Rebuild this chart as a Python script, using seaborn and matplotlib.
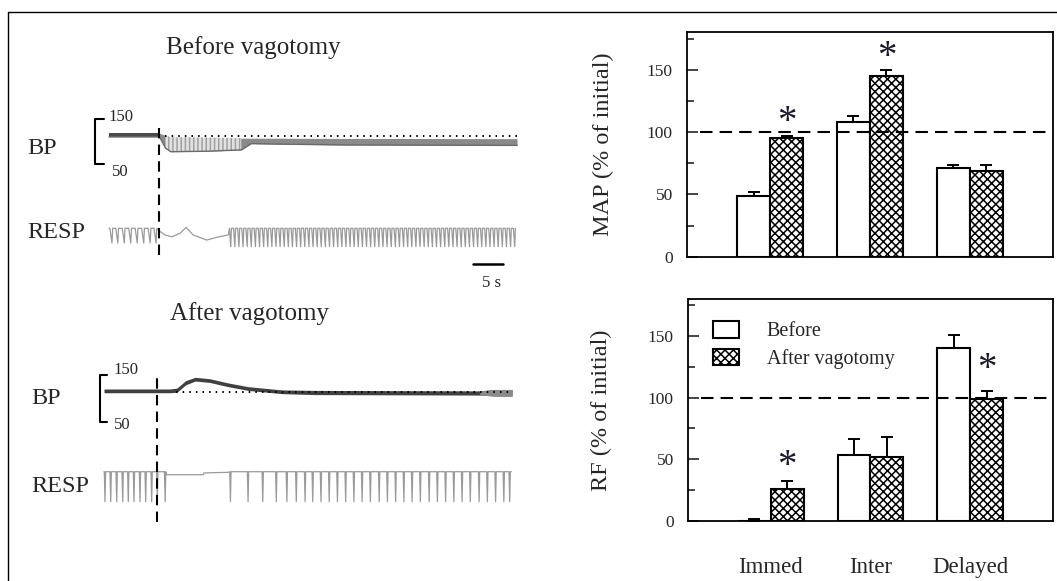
import numpy as np
import pandas as pd
import matplotlib
matplotlib.use("Agg")
import matplotlib.pyplot as plt
from matplotlib.lines import Line2D
from matplotlib.patches import Patch
import seaborn as sns

# ------------------------------------------------------------------ data
phases = ["Immed", "Inter", "Delayed"]
conditions = ["Before", "After vagotomy"]

map_before = [49, 108, 71.5]
map_before_err = [3, 5, 2]
map_after = [95, 145, 68.5]
map_after_err = [1.5, 5, 5]

rf_before = [0, 53, 140]
rf_before_err = [1, 13, 11]
rf_after = [26, 52, 99]
rf_after_err = [6, 16, 6]

# significance asterisks: (category index, y value) on the "After" bar
map_stars = [(0, 108), (1, 160)]
rf_stars = [(0, 44), (2, 123)]

# ---- traces (time in s) ----
stim_before = 8.55
bp_before_t = [0, 8.6, 9.6, 10.5, 16.5, 22.5, 24.2, 28, 40, 69.4]
bp_before_hi = [119, 119, 114, 110, 109.5, 108, 108, 108, 107.5, 107]
bp_before_lo = [111, 111, 86, 78, 79, 82, 96, 95, 93, 92]
bp_before_ref = 113

resp_before_pre = [0.5, 1.5, 2.6, 3.7, 4.8, 5.9, 7.0, 8.0]
resp_before_wave_t = [8.7, 9.5, 10.7, 12.1, 13.1, 14.3, 16.6, 18.3, 20.3]
resp_before_wave_y = [-0.18, -0.36, -0.46, -0.27, 0.05, -0.36, -0.64, -0.49, -0.36]
resp_before_post = [20.7, 21.4, 22.1, 22.8, 23.5, 24.2, 24.9, 25.6, 26.3, 27.0,
                    27.7, 28.4, 29.1, 29.8, 30.5, 31.2, 31.9, 32.6, 33.3, 34.0,
                    34.7, 35.4, 36.1, 36.8, 37.5, 38.2, 38.9, 39.6, 40.3, 41.0,
                    41.7, 42.4, 43.1, 43.8, 44.5, 45.2, 45.9, 46.6, 47.3, 48.0,
                    48.7, 49.4, 50.1, 50.8, 51.5, 52.2, 52.9, 53.6, 54.3, 55.0,
                    55.7, 56.4, 57.1, 57.8, 58.5, 59.2, 59.9, 60.6, 61.3, 62.0,
                    62.7, 63.4, 64.1, 64.8, 65.5, 66.2, 66.9, 67.6, 68.3, 69.0]

stim_after = 9.06
bp_after_t = [0, 9.0, 11.2, 12.4, 13.9, 15.5, 18.0, 21.1, 24.5, 30.3, 35.9, 63.9, 66.5, 69.4]
bp_after_hi = [120, 120, 120, 122, 138, 145, 142, 133, 125, 118, 117, 116, 119, 119]
bp_after_lo = [112, 112, 112, 113, 129, 137, 134, 125, 117, 110, 108, 107, 105, 105]
bp_after_ref = 113

resp_after_pre = [0.17, 1.14, 2.16, 3.18, 4.13, 5.1, 6.12, 7.09, 8.11, 9.06, 10.4]
resp_after_pause_t = [10.6, 16.9, 17.0, 21.2]
resp_after_pause_y = [-0.1, -0.1, -0.04, -0.02]
resp_after_post = [21.5, 24.5, 27.0, 29.3, 31.1, 32.7, 34.2, 35.5, 36.9, 38.3,
                   39.7, 41.1, 42.5, 43.9, 45.3, 46.8, 48.2, 49.6, 51.0, 52.4,
                   53.8, 55.3, 56.7, 58.1, 59.5, 60.9, 62.3, 63.8, 65.2, 66.6,
                   68.0, 69.0]

# ------------------------------------------------------------------ style
sns.set_style("white")
plt.rcParams["font.family"] = ["Liberation Serif", "DejaVu Serif"]
plt.rcParams["hatch.linewidth"] = 1.1

W, H = 1057, 581
fig = plt.figure(figsize=(W / 100, H / 100), dpi=100)


def rect(x0, y0, x1, y1):
    return [x0 / W, 1 - y1 / H, (x1 - x0) / W, (y1 - y0) / H]


def fpos(x, y):
    return x / W, 1 - y / H


# frame
fig.add_artist(Line2D([8 / W, 1], [1 - 11.5 / H] * 2, transform=fig.transFigure, color="black", lw=1.0))
fig.add_artist(Line2D([8 / W, 8 / W], [0, 1 - 11.5 / H], transform=fig.transFigure, color="black", lw=1.0))


# ------------------------------------------------------------------ traces
def breath_line(times, depth, wd, wu):
    xs, ys = [], []
    for tb in times:
        xs += [tb - wd, tb, tb + wu]
        ys += [0.0, -depth, 0.0]
    return xs, ys


def clean(ax, xlim, ylim):
    ax.set_xlim(*xlim)
    ax.set_ylim(*ylim)
    ax.axis("off")
    ax.patch.set_alpha(0)


def trace_panel(y_panel, y_bp, y_resp, xlim, bp_ylim, resp_ylim, bp_t, bp_hi, bp_lo, ref, ref_t0,
                bracket_t, bracket_tick, stim, stim_frac, resp_x, resp_y, bp_style):
    ax_bp = fig.add_axes(rect(20, y_bp[0], 530, y_bp[1]))
    ax_rs = fig.add_axes(rect(20, y_resp[0], 530, y_resp[1]))
    ax_pn = fig.add_axes(rect(20, y_panel[0], 530, y_panel[1]))
    for a in (ax_bp, ax_rs, ax_pn):
        a.set_zorder(2)
    clean(ax_bp, xlim, bp_ylim)
    clean(ax_rs, xlim, resp_ylim)
    clean(ax_pn, xlim, (0, 1))

    t = np.array(bp_t)
    hi = np.array(bp_hi)
    lo = np.array(bp_lo)
    bp_style(ax_bp, t, hi, lo)
    ax_bp.plot([ref_t0, t[-1]], [ref, ref], color="black", lw=1.4, ls=(0, (0.8, 2.6)), zorder=4)
    ax_bp.plot([bracket_t + bracket_tick, bracket_t, bracket_t, bracket_t + bracket_tick],
               [150, 150, 50, 50], color="black", lw=1.5, clip_on=False)

    ax_rs.plot(resp_x, resp_y, color="#9a9a9a", lw=0.9)
    ax_pn.axvline(stim, stim_frac[0], stim_frac[1], color="black", lw=1.5, ls=(0, (5, 3)))
    return ax_pn


def bp_before_style(ax, t, hi, lo):
    ax.fill_between(t, lo, hi, color="#8a8a8a", lw=0)
    ax.fill_between(t, lo, hi, where=t <= 8.6, color="#4a4a4a", lw=0)
    ax.fill_between(t, lo, hi, where=(t >= 9.6) & (t <= 22.5), facecolor="#e2e2e2",
                    edgecolor="#a0a0a0", hatch="||||", lw=0)
    ax.plot(t, lo, color="#6a6a6a", lw=1.0)


def bp_after_style(ax, t, hi, lo):
    ax.fill_between(t, lo, hi, color="#404040", lw=0)
    ax.fill_between(t, lo, hi, where=t >= 63.9, color="#8a8a8a", lw=0)


# Before vagotomy
rx1, ry1 = breath_line(resp_before_pre, 0.8, 0.35, 0.12)
rx2, ry2 = breath_line(resp_before_post, 1.0, 0.22, 0.12)
resp_bx = [0.0] + rx1 + resp_before_wave_t + rx2
resp_by = [0.0] + ry1 + resp_before_wave_y + ry2
ax_pb = trace_panel((20, 290), (100, 180), (215, 260), (-15.14, 71.6), (15.1, 192.9),
                    (-1.723, 0.723), bp_before_t, bp_before_hi, bp_before_lo, bp_before_ref, 9.5,
                    -2.4, 1.55, stim_before, (0.1296, 0.6), resp_bx, resp_by, bp_before_style)
# 5 s scale bar
ax_pb.plot([61.96, 66.96], [0.095, 0.095], color="black", lw=1.8)
ax_pb.text(65.0, 0.025, "5 s", ha="center", va="center", fontsize=12)

# After vagotomy
ax1, ay1 = breath_line(resp_after_pre, 1.0, 0.12, 0.1)
ax2, ay2 = breath_line(resp_after_post, 1.0, 0.12, 0.1)
resp_ax_ = [0.0] + ax1 + resp_after_pause_t + ax2 + [69.3]
resp_ay_ = [0.0] + ay1 + resp_after_pause_y + ay2 + [0.0]
trace_panel((290, 560), (360, 440), (455, 520), (-14.29, 72.45), (10.8, 182.1),
            (-1.61, 0.557), bp_after_t, bp_after_hi, bp_after_lo, bp_after_ref, 12.2,
            -0.75, 1.3, stim_after, (0.1407, 0.678), resp_ax_, resp_ay_, bp_after_style)

# trace labels
fig.text(*fpos(253, 48), "Before vagotomy", ha="center", va="center", fontsize=18)
fig.text(*fpos(250, 314), "After vagotomy", ha="center", va="center", fontsize=18)
for (x, y, s) in [(27, 149, "BP"), (27, 233, "RESP"), (31, 399, "BP"), (31, 486, "RESP")]:
    fig.text(*fpos(x, y), s, ha="left", va="center", fontsize=17.5)
for (x, y, s) in [(120.5, 117, "150"), (120.5, 172, "50"), (126, 370, "150"), (122, 425, "50")]:
    fig.text(*fpos(x, y), s, ha="center", va="center", fontsize=12)

# ------------------------------------------------------------------ bar charts
def bar_panel(box, before, before_err, after, after_err, stars, ylabel, label_x, show_x):
    ax = fig.add_axes(rect(*box))
    df = pd.DataFrame({
        "phase": phases * 2,
        "condition": [conditions[0]] * 3 + [conditions[1]] * 3,
        "value": list(before) + list(after),
    })
    sns.barplot(data=df, x="phase", y="value", hue="condition", order=phases,
                hue_order=conditions, palette=["white", "white"], saturation=1,
                edgecolor="black", linewidth=1.5, width=0.66, errorbar=None,
                legend=False, ax=ax)
    for bar in ax.containers[1]:
        bar.set_hatch("xxxx")
    for cont, vals, errs in [(ax.containers[0], before, before_err),
                             (ax.containers[1], after, after_err)]:
        xs = [b.get_x() + b.get_width() / 2 for b in cont]
        ax.errorbar(xs, vals, yerr=[np.zeros(len(vals)), errs], fmt="none",
                    ecolor="black", elinewidth=1.4, capsize=4, capthick=1.4, zorder=5)
    after_x = [b.get_x() + b.get_width() / 2 for b in ax.containers[1]]
    for i, y in stars:
        ax.text(after_x[i], y, "*", ha="center", va="center", fontsize=28, color="#1a1a2a")
    ax.axhline(100, xmin=(-0.7 + 0.833) / 3.663, xmax=1, color="black", lw=1.5,
               ls=(0, (6, 3.4)), zorder=6)
    ax.set_xlim(-0.833, 2.83)
    ax.set_ylim(0, 180)
    ax.set_yticks([0, 50, 100, 150])
    ax.set_yticks([25, 75, 125, 175], minor=True)
    ax.tick_params(axis="y", which="major", direction="in", length=8, width=1.2,
                   labelsize=12.5, pad=10, left=True)
    ax.tick_params(axis="y", which="minor", direction="in", length=5, width=1.2, left=True)
    ax.tick_params(axis="x", length=0, labelsize=16.5, pad=26)
    if not show_x:
        ax.set_xticklabels([])
    ax.set_xlabel("")
    ax.set_ylabel(ylabel, fontsize=17.5)
    ax.yaxis.set_label_coords(label_x, 0.5)
    for sp in ax.spines.values():
        sp.set_visible(True)
        sp.set_color("black")
        sp.set_linewidth(1.3)
    return ax


bar_panel((686.7, 32.3, 1053, 256.7), map_before, map_before_err, map_after, map_after_err,
          map_stars, "MAP (% of initial)", -0.198, False)
ax_rf = bar_panel((687.7, 299, 1053, 520.7), rf_before, rf_before_err, rf_after, rf_after_err,
                  rf_stars, "RF (% of initial)", -0.208, True)

handles = [Patch(facecolor="white", edgecolor="black", linewidth=1.5),
           Patch(facecolor="white", edgecolor="black", linewidth=1.5, hatch="xxxx")]
ax_rf.legend(handles, conditions, loc="upper left", bbox_to_anchor=(0.068, 0.90),
             frameon=False, fontsize=14.5, handlelength=1.3, handleheight=0.9,
             handletextpad=1.4, labelspacing=0.35, borderpad=0, borderaxespad=0)

fig.savefig("out.png", dpi=100)
